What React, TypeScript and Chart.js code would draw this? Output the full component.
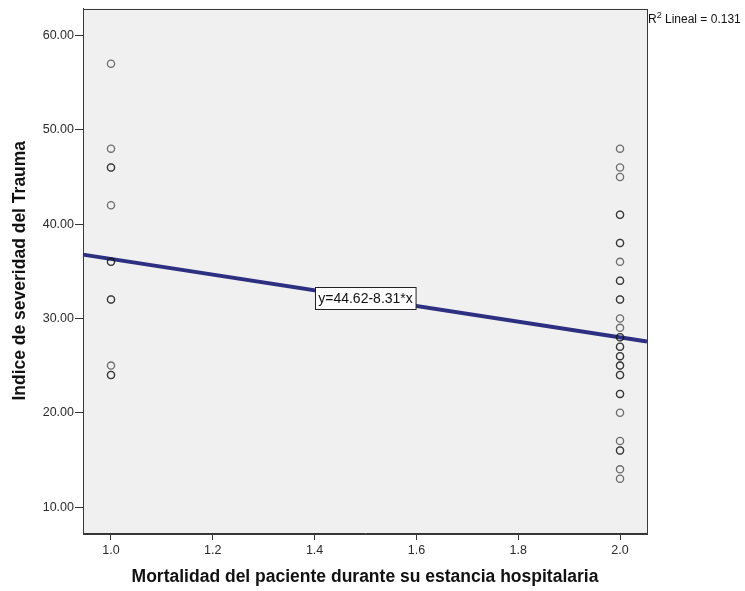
import { useEffect, useRef } from "react";
import { Chart, registerables } from "chart.js";

Chart.register(...registerables);

// Mortalidad: 1 = falleció, 2 = sobrevivió
const grupoFallecido = 1;
const grupoVivo = 2;
const severidadFallecido = [57, 48, 46, 46, 42, 36, 36, 32, 32, 25, 24, 24];
const severidadVivo = [
  48, 46, 45, 41, 41, 38, 38, 36, 34, 34, 32, 32, 30, 29, 28, 28, 27, 27, 26,
  26, 25, 25, 24, 24, 22, 22, 20, 17, 16, 16, 14, 13,
];
const xTicks = [1.0, 1.2, 1.4, 1.6, 1.8, 2.0];
const yTicks = [10, 20, 30, 40, 50, 60];
const xRange = [0.945, 2.053];
const yRange = [7.25, 62.86];

// Ajuste lineal
const intercepto = 44.62;
const pendiente = -8.31;
const r2Lineal = 0.131;

const FONT = "Arial, 'Liberation Sans', sans-serif";

const ajuste = (x: number) => intercepto + pendiente * x;

const marcoPlugin = {
  id: "marco",
  beforeDraw(chart: any) {
    const { ctx, chartArea: a } = chart;
    ctx.save();
    ctx.fillStyle = "#f0f0f0";
    ctx.fillRect(a.left, a.top, a.right - a.left, a.bottom - a.top);
    ctx.restore();
  },
  afterDraw(chart: any) {
    const { ctx, chartArea: a, scales } = chart;
    ctx.save();
    // marco del área de trazado
    ctx.strokeStyle = "#3a3a3a";
    ctx.lineWidth = 1;
    ctx.strokeRect(
      Math.round(a.left) + 0.5,
      Math.round(a.top) + 0.5,
      Math.round(a.right - a.left),
      Math.round(a.bottom - a.top)
    );

    // etiqueta de la ecuación sobre la recta
    const xm = (xTicks[0] + xTicks[xTicks.length - 1]) / 2;
    const px = scales.x.getPixelForValue(xm);
    const py = scales.y.getPixelForValue(ajuste(xm));
    const texto = `y=${intercepto.toFixed(2)}${pendiente.toFixed(2)}*x`;
    ctx.font = `14px ${FONT}`;
    const w = ctx.measureText(texto).width + 6;
    const h = 22;
    const bx = Math.round(px - w / 2) + 0.5;
    const by = Math.round(py - h / 2) + 0.5;
    ctx.fillStyle = "#ffffff";
    ctx.fillRect(bx, by, w, h);
    ctx.strokeStyle = "#222222";
    ctx.strokeRect(bx, by, w, h);
    ctx.fillStyle = "#111111";
    ctx.textAlign = "center";
    ctx.textBaseline = "middle";
    ctx.fillText(texto, px, py + 1);

    // R² lineal en la esquina superior derecha
    let tx = a.right + 1;
    const ty = a.top + 14;
    ctx.textAlign = "left";
    ctx.textBaseline = "alphabetic";
    ctx.font = `12px ${FONT}`;
    ctx.fillText("R", tx, ty);
    tx += ctx.measureText("R").width;
    ctx.font = `9px ${FONT}`;
    ctx.fillText("2", tx, ty - 5);
    tx += ctx.measureText("2").width;
    ctx.font = `12px ${FONT}`;
    ctx.fillText(` Lineal = ${r2Lineal.toFixed(3)}`, tx, ty);
    ctx.restore();
  },
};

export default function App() {
  const ref = useRef<HTMLCanvasElement | null>(null);

  useEffect(() => {
    if (!ref.current) return;
    const puntos = [
      ...severidadFallecido.map((y) => ({ x: grupoFallecido, y })),
      ...severidadVivo.map((y) => ({ x: grupoVivo, y })),
    ];
    const recta = [
      { x: xRange[0], y: ajuste(xRange[0]) },
      { x: xRange[1], y: ajuste(xRange[1]) },
    ];

    const chart = new Chart(ref.current, {
      type: "scatter",
      data: {
        datasets: [
          {
            type: "line",
            data: recta,
            borderColor: "#2d2f80",
            borderWidth: 4,
            pointRadius: 0,
            fill: false,
            order: 2,
          } as any,
          {
            data: puntos,
            pointRadius: 3.6,
            pointBorderWidth: 1.3,
            pointBackgroundColor: "rgba(0,0,0,0)",
            pointBorderColor: "rgba(20,20,20,0.6)",
            order: 1,
          },
        ],
      },
      options: {
        responsive: false,
        animation: false,
        clip: false as any,
        layout: { padding: { top: 8, right: 98, left: 0, bottom: 0 } },
        plugins: {
          legend: { display: false },
          tooltip: { enabled: false },
        },
        scales: {
          x: {
            type: "linear",
            min: xRange[0],
            max: xRange[1],
            afterBuildTicks: (s: any) => {
              s.ticks = xTicks.map((v) => ({ value: v }));
            },
            afterFit: (s: any) => {
              s.height = 58;
            },
            grid: {
              drawOnChartArea: false,
              drawTicks: true,
              tickLength: 7,
              color: "#333",
            },
            border: { color: "#333" },
            ticks: {
              padding: 3,
              color: "#2a2a2a",
              font: { family: FONT, size: 12.5 },
              callback: (v: any) => Number(v).toFixed(1),
            },
            title: {
              display: true,
              text: "Mortalidad del paciente durante su estancia hospitalaria",
              color: "#111",
              font: { family: FONT, size: 17.5, weight: "bold" },
              padding: { top: 0, bottom: 3 },
            },
          },
          y: {
            type: "linear",
            min: yRange[0],
            max: yRange[1],
            afterBuildTicks: (s: any) => {
              s.ticks = yTicks.map((v) => ({ value: v }));
            },
            afterFit: (s: any) => {
              s.width = 83;
            },
            grid: {
              drawOnChartArea: false,
              drawTicks: true,
              tickLength: 8,
              color: "#333",
            },
            border: { color: "#333" },
            ticks: {
              padding: 1,
              color: "#2a2a2a",
              font: { family: FONT, size: 12.5 },
              callback: (v: any) => Number(v).toFixed(2),
            },
            title: {
              display: true,
              text: "Indice de severidad del Trauma",
              color: "#111",
              font: { family: FONT, size: 17.5, weight: "bold" },
              padding: { top: 10, bottom: 0 },
            },
          },
        },
      },
      plugins: [marcoPlugin],
    });
    return () => chart.destroy();
  }, []);

  return (
    <div style={{ position: "absolute", left: 0, top: 0, width: 745, height: 591, background: "#fff" }}>
      <canvas ref={ref} width={745} height={591} />
    </div>
  );
}
